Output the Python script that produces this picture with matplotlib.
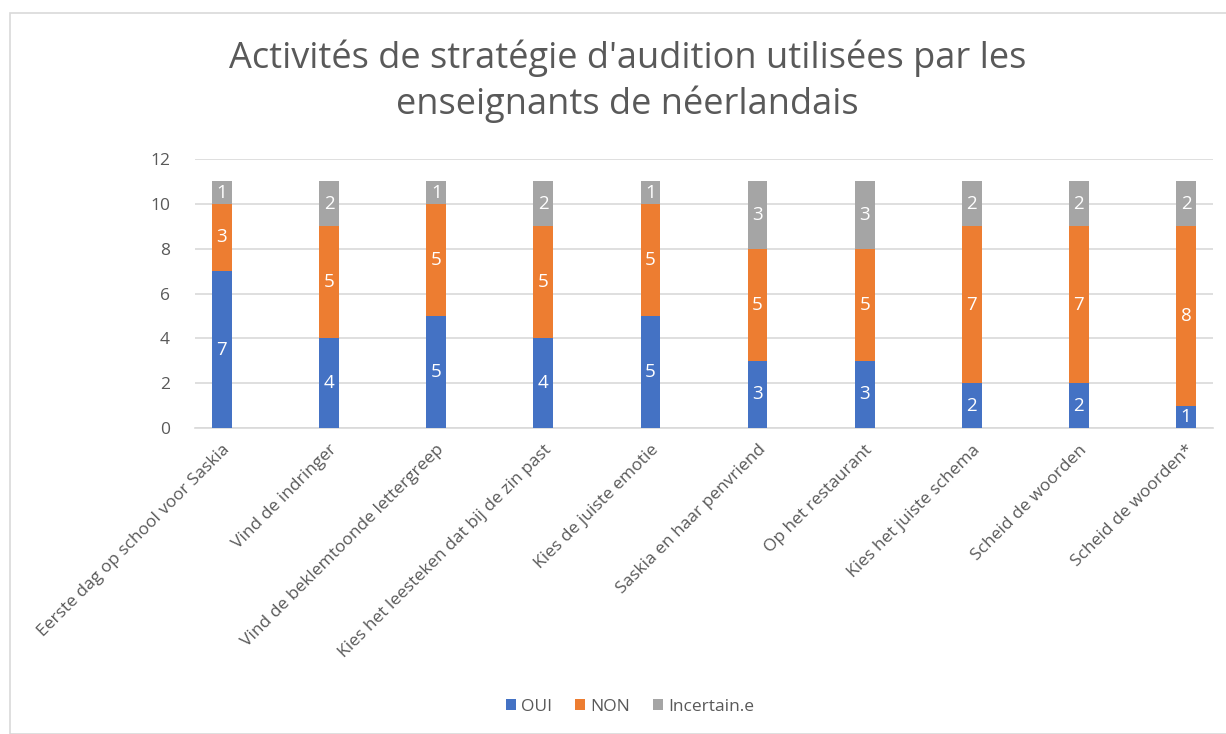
import numpy as np
import matplotlib.pyplot as plt
from matplotlib.patches import Rectangle

activities = [
    "Eerste dag op school voor Saskia",
    "Vind de indringer",
    "Vind de beklemtoonde lettergreep",
    "Kies het leesteken dat bij de zin past",
    "Kies de juiste emotie",
    "Saskia en haar penvriend",
    "Op het restaurant",
    "Kies het juiste schema",
    "Scheid de woorden",
    "Scheid de woorden*",
]
oui = [7, 4, 5, 4, 5, 3, 3, 2, 2, 1]
non = [3, 5, 5, 5, 5, 5, 5, 7, 7, 8]
incertain = [1, 2, 1, 2, 1, 3, 3, 2, 2, 2]

series = [("OUI", oui, "#4472C4"), ("NON", non, "#ED7D31"), ("Incertain.e", incertain, "#A5A5A5")]

plt.rcParams['font.family'] = ['Open Sans', 'DejaVu Sans']
text_color = "#595959"

fig = plt.figure(figsize=(12.26, 7.34), dpi=100)
fig.patches.append(Rectangle((10 / 1226, 0), 1.1, 1 - 13 / 734, transform=fig.transFigure,
                             fill=False, edgecolor="#D9D9D9", linewidth=1.2))

ax = fig.add_axes([195 / 1226, 1 - 428 / 734, (1213 - 195) / 1226, (428 - 159) / 734])

x = np.arange(len(activities))
bottom = np.zeros(len(activities))
for name, vals, color in series:
    vals = np.array(vals, dtype=float)
    bars = ax.bar(x, vals, 0.185, bottom=bottom, color=color, label=name, zorder=3)
    ax.bar_label(bars, labels=[str(int(v)) for v in vals], label_type="center",
                 color="white", fontsize=13.5)
    bottom += vals

ax.set_ylim(0, 12)
ax.set_xlim(-0.252, len(activities) - 1 + 0.252)
ax.set_yticks(range(0, 13, 2))
ax.yaxis.grid(True, color="#D9D9D9", linewidth=1.2, zorder=0)
for s in ["top", "right", "left"]:
    ax.spines[s].set_visible(False)
ax.spines["bottom"].set_color("#D9D9D9")
ax.spines["bottom"].set_linewidth(1.2)
ax.tick_params(axis="both", length=0, colors=text_color, labelsize=12.5)
ax.tick_params(axis="y", pad=18)
ax.tick_params(axis="x", pad=10)
ax.set_xticks(x)
ax.set_xticklabels(activities, rotation=45, ha="right", rotation_mode="anchor",
                   fontsize=12.5, color=text_color)

fig.text(0.512, 0.889, "Activités de stratégie d'audition utilisées par les\nenseignants de néerlandais",
         ha="center", va="center", fontsize=26, color=text_color, linespacing=1.3)

fig.legend(loc="center", bbox_to_anchor=(0.514, 0.037), ncol=3, frameon=False,
           fontsize=12.5, handlelength=0.6, handleheight=0.6, handletextpad=0.3,
           columnspacing=1.3, labelcolor=text_color)

fig.savefig("out.png", dpi=100)
